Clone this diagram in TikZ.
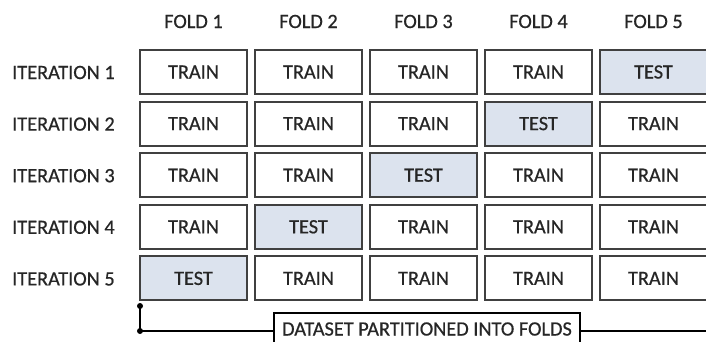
\documentclass[tikz,border=0pt]{standalone}
\usepackage{fontspec}
\setmainfont{Carlito}[FakeBold=0.6]
\definecolor{testfill}{HTML}{DCE3EE}
\definecolor{bordergray}{HTML}{404040}
\definecolor{textdark}{HTML}{262626}
\begin{document}
\begin{tikzpicture}[x=1pt,y=-1pt,
  txt/.style={font=\fontsize{20.3}{23}\selectfont, text=textdark, inner sep=0pt},
  cell/.style={txt, draw=bordergray, line width=2pt, minimum width=107pt, minimum height=44pt},
  testcell/.style={cell, fill=testfill},
  dsbox/.style={txt, draw=black, line width=2pt, minimum width=306pt, minimum height=32pt},
  conn/.style={draw=black, line width=2pt}]
\useasboundingbox (0,0) rectangle (706,342);
\fill[white] (0,0) rectangle (706,342);
\foreach \j in {1,...,5} {
  \node[txt] (f\j) at ({193.5+115*(\j-1)}, 21.5) {FOLD \j};
}
\foreach \i in {1,...,5} {
  \node[txt, anchor=west] (it\i) at (12, {72.5+51.6*(\i-1)}) {ITERATION \i};
  \foreach \j in {1,...,5} {
    \pgfmathtruncatemacro\s{\i+\j}
    \ifnum\s=6
      \node[testcell] (c\i\j) at ({193.5+115*(\j-1)}, {72+51.6*(\i-1)}) {TEST};
    \else
      \node[cell] (c\i\j) at ({193.5+115*(\j-1)}, {72+51.6*(\i-1)}) {TRAIN};
    \fi
  }
}
\coordinate (b0) at (140,306);
\coordinate (b1) at (140,331);
\coordinate (b2) at (720,331);
\node[dsbox] (ds) at (427,329) {DATASET PARTITIONED INTO FOLDS};
\draw[conn] (b0) -- (b1) -- (b1 -| ds.west);
\draw[conn] (b1 -| ds.east) -- (b2);
\fill (b0) circle (3);
\fill (b1) circle (3);
\end{tikzpicture}
\end{document}
